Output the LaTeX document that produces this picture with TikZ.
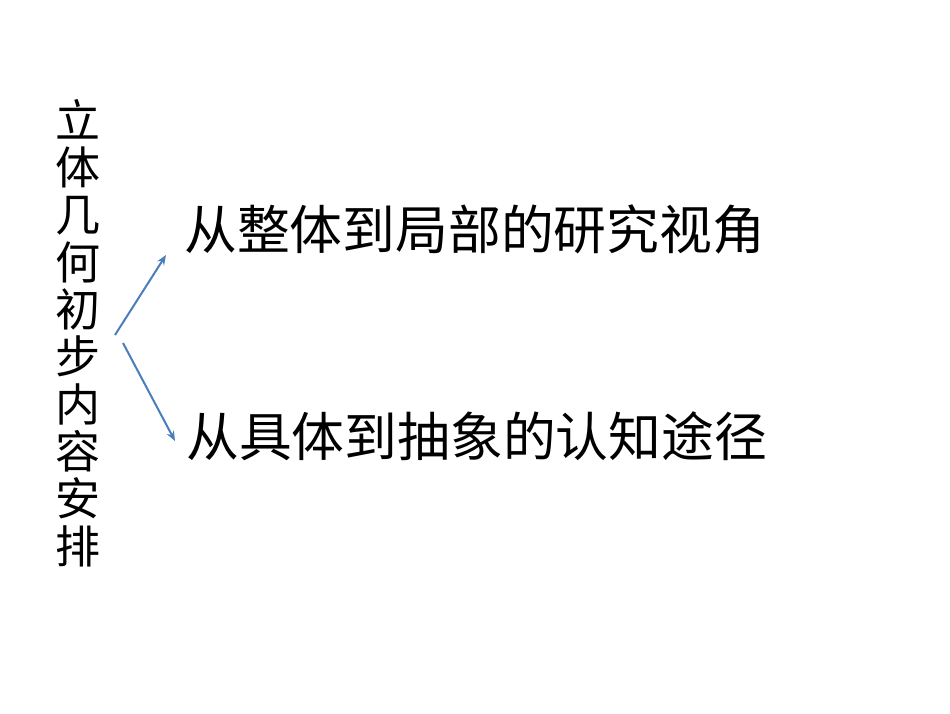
\documentclass[tikz,border=0pt]{standalone}
\usepackage{fontspec}
\setmainfont{Noto Sans CJK SC}
\usetikzlibrary{arrows.meta}
\definecolor{arrowblue}{RGB}{74,126,187}
\tikzset{
  vtext/.style={align=center, inner sep=0pt, font=\fontsize{45}{47.3}\selectfont},
  htext/.style={anchor=west, inner sep=0pt, font=\fontsize{52.8}{56}\selectfont},
  conn/.style={draw=arrowblue, line width=2pt, -{Stealth[length=10pt,width=8pt]}}
}
\begin{document}
\begin{tikzpicture}[x=1pt,y=-1pt]
\useasboundingbox (0,0) rectangle (950,713);
\node[vtext] (title) at (78,333) {立\\体\\几\\何\\初\\步\\内\\容\\安\\排};
\node[htext] (top) at (184,229) {从整体到局部的研究视角};
\node[htext] (bot) at (186,436) {从具体到抽象的认知途径};
\coordinate (s1) at (115,335);
\coordinate (e1) at (166,255);
\coordinate (s2) at (123,343);
\coordinate (e2) at (175,441);
\draw[conn] (s1) -- (e1);
\draw[conn] (s2) -- (e2);
\end{tikzpicture}
\end{document}
